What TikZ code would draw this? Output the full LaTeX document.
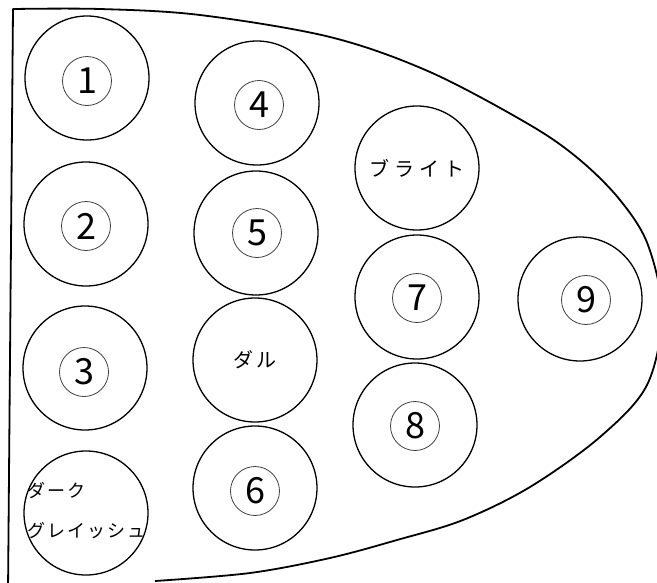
\documentclass[tikz,border=0pt]{standalone}
\usepackage{fontspec}
\newfontfamily\jp{Noto Sans CJK JP}
\newfontfamily\jpA{Noto Sans CJK JP}[LetterSpace=25]
\newfontfamily\jpB{Noto Sans CJK JP}[LetterSpace=15]
\newfontfamily\jpC{Noto Sans CJK JP}[LetterSpace=12]
\begin{document}
\begin{tikzpicture}[x=1pt,y=-1pt,
  ring/.style={circle,draw,line width=1.3pt,minimum size=124pt,inner sep=0pt},
  digit/.style={circle,draw=black!75,line width=0.8pt,minimum size=49pt,inner sep=0pt,
    font=\jp\fontsize{36}{36}\selectfont},
  katatext/.style={inner sep=0pt},
  outline/.style={line width=1.8pt,line join=round}]
\useasboundingbox (0,0) rectangle (657,582);
% outer shape
\draw[outline] (8,592) -- plot[smooth,tension=0.55] coordinates {
  (13,9) (100,9) (200,15) (330,37) (430,72) (530,125) (580,160) (620,200)
  (648,245) (662,313) (647,385) (600,437) (530,487) (463,520) (397,540)
  (330,558) (250,573) (155,581)};
% rings
\node[ring] (c1) at (87,78) {};
\node[ring] (c2) at (86,224) {};
\node[ring] (c3) at (85,368) {};
\node[ring] (cdark) at (86,513) {};
\node[ring] (c4) at (257,103) {};
\node[ring] (c5) at (256,233) {};
\node[ring] (cdull) at (255,360) {};
\node[ring] (c6) at (255,488) {};
\node[ring] (cbright) at (417,168) {};
\node[ring] (c7) at (417,297) {};
\node[ring] (c8) at (415,425) {};
\node[ring] (c9) at (580,299) {};
% circled digits
\node[digit] (d1) at (87,81) {1};
\node[digit] (d2) at (86,226) {2};
\node[digit] (d3) at (84,372) {3};
\node[digit] (d4) at (259,105) {4};
\node[digit] (d5) at (257,233) {5};
\node[digit] (d6) at (255,491) {6};
\node[digit] (d7) at (417,298) {7};
\node[digit] (d8) at (415,426) {8};
\node[digit] (d9) at (586,300) {9};
% katakana labels
\node[katatext,font=\jpA\fontsize{20}{20}\selectfont] (tbright) at (cbright) {ブライト};
\node[katatext,font=\jpB\fontsize{20}{20}\selectfont] (tdull) at (cdull) {ダル};
\node[katatext,anchor=west,font=\jpC\fontsize{18}{18}\selectfont] (tdark1) at (27,490) {ダーク};
\node[katatext,anchor=west,font=\jpC\fontsize{18}{18}\selectfont] (tdark2) at (27,531) {グレイッシュ};
\end{tikzpicture}
\end{document}
